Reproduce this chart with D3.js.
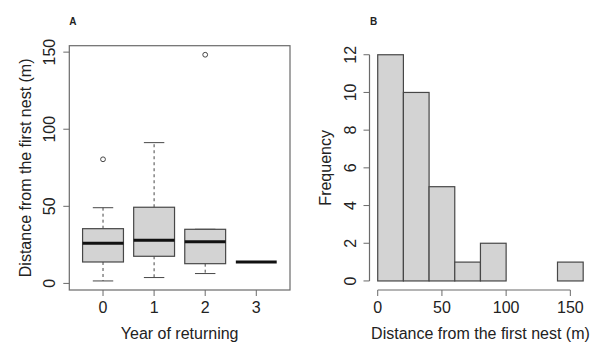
<!DOCTYPE html>
<html>
<head>
<meta charset="utf-8">
<script src="https://cdn.jsdelivr.net/npm/d3@7"></script>
<style>
  html, body { margin: 0; padding: 0; background: #fff; }
  svg { display: block; }
  text { font-family: "Liberation Sans", Arial, sans-serif; fill: #222; }
</style>
</head>
<body>
<svg id="chart" width="595" height="342"></svg>
<script>
// ---------- Data ----------
const years = ["0", "1", "2", "3"];
const lowerWhisker = [1.6, 3.8, 6.4, 13.9];
const q1 = [13.9, 17.6, 12.8, 13.9];
const median = [26.0, 28.0, 27.1, 13.9];
const q3 = [35.5, 49.4, 35.1, 13.9];
const upperWhisker = [49.1, 91.3, 35.1, 13.9];
const outliers = [[80.5], [], [148.3], []];
const boxYTicks = [0, 50, 100, 150];

const binEdges = [0, 20, 40, 60, 80, 100, 120, 140, 160];
const binCounts = [12, 10, 5, 1, 2, 0, 0, 1];
const histXTicks = [0, 50, 100, 150];
const histYTicks = [0, 2, 4, 6, 8, 10, 12];

// ---------- Setup ----------
const svg = d3.select("#chart");
const frameColor = "#6a6a6a";
const markStroke = "#474747";
const fillColor = "#d3d3d3";
const fontSize = 16;

function rExtend(lo, hi) { const e = (hi - lo) * 0.04; return [lo - e, hi + e]; }

// ================= Panel A : boxplot =================
const A = { left: 69.3, right: 290, top: 45.7, bottom: 290 };
const allVals = lowerWhisker.concat(upperWhisker, outliers.flat());
const xA = d3.scaleLinear().domain(rExtend(0.5, years.length + 0.5)).range([A.left, A.right]);
const yA = d3.scaleLinear().domain(rExtend(d3.min(allVals), d3.max(allVals))).range([A.bottom, A.top]);

const gA = svg.append("g");
const boxHalf = 0.4, capHalf = 0.2;

years.forEach((yr, i) => {
  const cx = xA(i + 1);
  const g = gA.append("g");
  // whiskers (dashed)
  g.append("line").attr("x1", cx).attr("x2", cx)
    .attr("y1", yA(q3[i])).attr("y2", yA(upperWhisker[i]))
    .attr("stroke", markStroke).attr("stroke-dasharray", "3,3");
  g.append("line").attr("x1", cx).attr("x2", cx)
    .attr("y1", yA(q1[i])).attr("y2", yA(lowerWhisker[i]))
    .attr("stroke", markStroke).attr("stroke-dasharray", "3,3");
  // caps
  [upperWhisker[i], lowerWhisker[i]].forEach(v => {
    g.append("line").attr("x1", xA(i + 1 - capHalf)).attr("x2", xA(i + 1 + capHalf))
      .attr("y1", yA(v)).attr("y2", yA(v)).attr("stroke", markStroke);
  });
  // box
  g.append("rect")
    .attr("x", xA(i + 1 - boxHalf)).attr("width", xA(i + 1 + boxHalf) - xA(i + 1 - boxHalf))
    .attr("y", yA(q3[i])).attr("height", yA(q1[i]) - yA(q3[i]))
    .attr("fill", fillColor).attr("stroke", markStroke).attr("stroke-width", 1.2);
  // median
  g.append("line").attr("x1", xA(i + 1 - boxHalf)).attr("x2", xA(i + 1 + boxHalf))
    .attr("y1", yA(median[i])).attr("y2", yA(median[i]))
    .attr("stroke", "#111").attr("stroke-width", 3);
  // outliers
  outliers[i].forEach(v => {
    g.append("circle").attr("cx", cx).attr("cy", yA(v)).attr("r", 2.4)
      .attr("fill", "none").attr("stroke", markStroke).attr("stroke-width", 1);
  });
});

// frame
gA.append("rect").attr("x", A.left).attr("y", A.top)
  .attr("width", A.right - A.left).attr("height", A.bottom - A.top)
  .attr("fill", "none").attr("stroke", frameColor).attr("stroke-width", 1.2);

// y axis A
boxYTicks.forEach(t => {
  const y = yA(t);
  gA.append("line").attr("x1", A.left - 6).attr("x2", A.left).attr("y1", y).attr("y2", y)
    .attr("stroke", frameColor);
  gA.append("text").attr("transform", `translate(${A.left - 14},${y}) rotate(-90)`)
    .attr("text-anchor", "middle").attr("font-size", fontSize).text(t);
});
// x axis A
years.forEach((yr, i) => {
  const x = xA(i + 1);
  gA.append("line").attr("x1", x).attr("x2", x).attr("y1", A.bottom).attr("y2", A.bottom + 6)
    .attr("stroke", frameColor);
  gA.append("text").attr("x", x).attr("y", 313).attr("text-anchor", "middle")
    .attr("font-size", fontSize).text(yr);
});
gA.append("text").attr("x", (A.left + A.right) / 2).attr("y", 338.5).attr("text-anchor", "middle")
  .attr("font-size", fontSize).text("Year of returning");
gA.append("text").attr("transform", `translate(30.5,${(A.top + A.bottom) / 2}) rotate(-90)`)
  .attr("text-anchor", "middle").attr("font-size", fontSize).text("Distance from the first nest (m)");
gA.append("text").attr("x", 69.3).attr("y", 25).attr("font-size", 10).attr("font-weight", "bold").text("A");

// ================= Panel B : histogram =================
const B = { left: 369.5, right: 591.4, top: 45.7, bottom: 290 };
const xB = d3.scaleLinear().domain(rExtend(binEdges[0], binEdges[binEdges.length - 1])).range([B.left, B.right]);
const yB = d3.scaleLinear().domain(rExtend(0, d3.max(binCounts))).range([B.bottom, B.top]);
const gB = svg.append("g");

binCounts.forEach((c, i) => {
  gB.append("rect")
    .attr("x", xB(binEdges[i])).attr("width", xB(binEdges[i + 1]) - xB(binEdges[i]))
    .attr("y", yB(c)).attr("height", yB(0) - yB(c))
    .attr("fill", fillColor).attr("stroke", markStroke).attr("stroke-width", 1.2);
});

// y axis B
gB.append("line").attr("x1", B.left).attr("x2", B.left)
  .attr("y1", yB(histYTicks[0])).attr("y2", yB(histYTicks[histYTicks.length - 1]))
  .attr("stroke", frameColor).attr("stroke-width", 1.2);
histYTicks.forEach(t => {
  const y = yB(t);
  gB.append("line").attr("x1", B.left - 6).attr("x2", B.left).attr("y1", y).attr("y2", y)
    .attr("stroke", frameColor);
  gB.append("text").attr("transform", `translate(${B.left - 14},${y}) rotate(-90)`)
    .attr("text-anchor", "middle").attr("font-size", fontSize).text(t);
});
// x axis B
gB.append("line").attr("x1", xB(histXTicks[0])).attr("x2", xB(histXTicks[histXTicks.length - 1]))
  .attr("y1", B.bottom).attr("y2", B.bottom).attr("stroke", frameColor).attr("stroke-width", 1.2);
histXTicks.forEach(t => {
  const x = xB(t);
  gB.append("line").attr("x1", x).attr("x2", x).attr("y1", B.bottom).attr("y2", B.bottom + 6)
    .attr("stroke", frameColor);
  gB.append("text").attr("x", x).attr("y", 313).attr("text-anchor", "middle")
    .attr("font-size", fontSize).text(t);
});
gB.append("text").attr("x", (B.left + B.right) / 2).attr("y", 338.5).attr("text-anchor", "middle")
  .attr("font-size", fontSize).text("Distance from the first nest (m)");
gB.append("text").attr("transform", `translate(330.5,${(B.top + B.bottom) / 2}) rotate(-90)`)
  .attr("text-anchor", "middle").attr("font-size", fontSize).text("Frequency");
gB.append("text").attr("x", 370).attr("y", 25).attr("font-size", 10).attr("font-weight", "bold").text("B");
</script>
</body>
</html>
